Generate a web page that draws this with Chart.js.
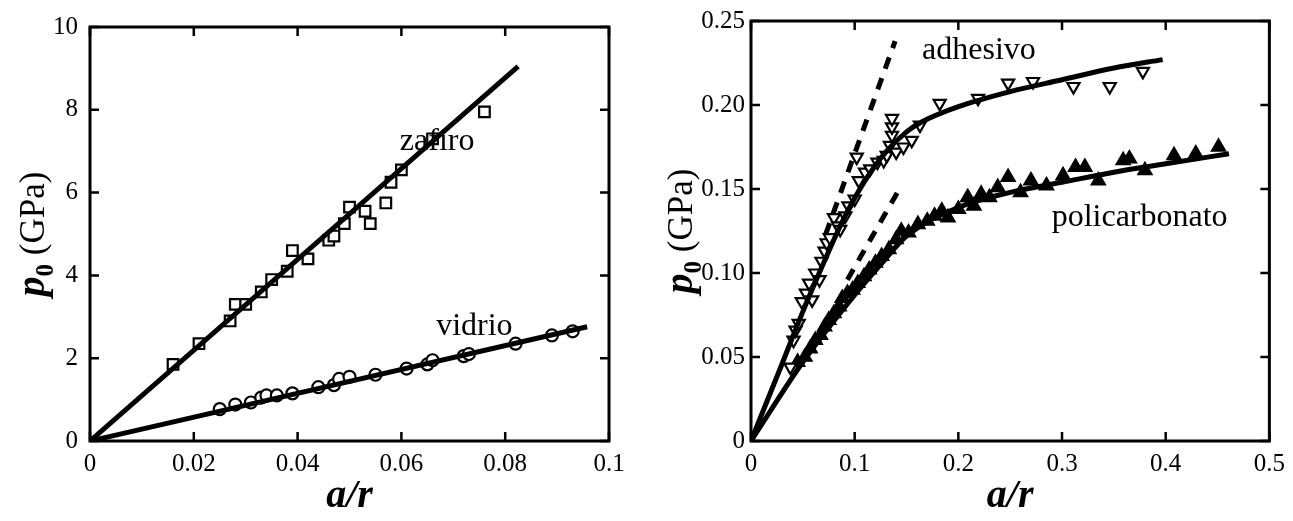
<!DOCTYPE html>
<html>
<head>
<meta charset="utf-8">
<script src="https://cdn.jsdelivr.net/npm/chart.js@4.4.1/dist/chart.umd.min.js"></script>
<style>
  html, body { margin: 0; padding: 0; background: #fff; }
  #wrap { position: relative; width: 1293px; height: 521px; }
  .panel { position: absolute; top: 0; height: 521px; }
</style>
</head>
<body>
<div id="wrap">
  <div class="panel" style="left:0;width:640px"><canvas id="left"></canvas></div>
  <div class="panel" style="left:640px;width:653px"><canvas id="right"></canvas></div>
</div>
<script>
// left panel: zafiro (squares) and vidrio (circles)
const zafiroX = [0.016, 0.021, 0.027, 0.028, 0.030, 0.033, 0.035, 0.038, 0.039, 0.042, 0.046, 0.047, 0.049, 0.050, 0.053, 0.054, 0.057, 0.058, 0.060, 0.066, 0.076];
const zafiroY = [1.85, 2.35, 2.9, 3.3, 3.3, 3.6, 3.9, 4.1, 4.6, 4.4, 4.85, 4.95, 5.25, 5.65, 5.55, 5.25, 5.75, 6.25, 6.55, 7.3, 7.95];
const zafiroFitX = [0, 0.0825];
const zafiroFitY = [0, 9.05];

const vidrioX = [0.025, 0.028, 0.031, 0.033, 0.034, 0.036, 0.039, 0.044, 0.047, 0.048, 0.050, 0.055, 0.061, 0.065, 0.066, 0.072, 0.073, 0.082, 0.089, 0.093];
const vidrioY = [0.77, 0.88, 0.93, 1.05, 1.1, 1.1, 1.15, 1.3, 1.35, 1.5, 1.55, 1.6, 1.75, 1.85, 1.95, 2.05, 2.1, 2.35, 2.55, 2.65];
const vidrioFitX = [0, 0.0958];
const vidrioFitY = [0, 2.76];

// right panel: adhesivo (open down triangles) and policarbonato (filled triangles)
const adhesivoX = [0.038, 0.041, 0.043, 0.046, 0.049, 0.053, 0.056, 0.059, 0.062, 0.066, 0.068, 0.071, 0.073, 0.076, 0.080, 0.084, 0.086, 0.091, 0.094, 0.100, 0.102, 0.104, 0.110, 0.115, 0.122, 0.128, 0.131, 0.134, 0.136, 0.136, 0.136, 0.140, 0.147, 0.155, 0.163, 0.182, 0.219, 0.248, 0.272, 0.311, 0.346, 0.378];
const adhesivoY = [0.044, 0.060, 0.066, 0.070, 0.083, 0.088, 0.094, 0.084, 0.100, 0.096, 0.107, 0.113, 0.118, 0.121, 0.133, 0.128, 0.126, 0.134, 0.140, 0.144, 0.169, 0.155, 0.160, 0.162, 0.166, 0.167, 0.170, 0.176, 0.182, 0.187, 0.192, 0.172, 0.175, 0.179, 0.188, 0.201, 0.204, 0.213, 0.214, 0.211, 0.211, 0.220];
const adhesivoFitX = [0, 0.03, 0.05, 0.07, 0.09, 0.11, 0.13, 0.15, 0.165, 0.2, 0.25, 0.3, 0.35, 0.397];
const adhesivoFitY = [0, 0.046, 0.077, 0.106, 0.133, 0.155, 0.172, 0.184, 0.190, 0.199, 0.208, 0.215, 0.222, 0.227];
const adhesivoDashX = [0.072, 0.139];
const adhesivoDashY = [0.123, 0.238];

const policarbX = [0.045, 0.052, 0.057, 0.062, 0.067, 0.071, 0.075, 0.080, 0.085, 0.088, 0.093, 0.098, 0.103, 0.109, 0.114, 0.120, 0.126, 0.133, 0.140, 0.145, 0.152, 0.161, 0.170, 0.177, 0.184, 0.190, 0.200, 0.209, 0.215, 0.222, 0.230, 0.238, 0.248, 0.260, 0.270, 0.285, 0.301, 0.313, 0.322, 0.335, 0.359, 0.365, 0.380, 0.408, 0.429, 0.451];
const policarbY = [0.047, 0.050, 0.055, 0.060, 0.063, 0.068, 0.072, 0.076, 0.080, 0.085, 0.088, 0.090, 0.094, 0.098, 0.102, 0.106, 0.110, 0.114, 0.120, 0.125, 0.124, 0.129, 0.131, 0.134, 0.137, 0.133, 0.138, 0.145, 0.140, 0.147, 0.145, 0.151, 0.157, 0.148, 0.155, 0.152, 0.158, 0.163, 0.163, 0.155, 0.167, 0.168, 0.161, 0.170, 0.171, 0.175];
const policarbFitX = [0, 0.05, 0.1, 0.125, 0.15, 0.2, 0.25, 0.3, 0.35, 0.4, 0.461];
const policarbFitY = [0, 0.047, 0.087, 0.105, 0.122, 0.139, 0.148, 0.154, 0.160, 0.165, 0.171];
const policarbDashX = [0.093, 0.145];
const policarbDashY = [0.096, 0.152];

const pts = (xs, ys) => xs.map((x, i) => ({ x, y: ys[i] }));
const SERIF = '"Liberation Serif", "Times New Roman", serif';

const fitLine = (data, dash) => ({
  data, showLine: true, pointRadius: 0, borderColor: '#000', borderWidth: 5,
  borderDash: dash || [], cubicInterpolationMode: 'monotone', order: 0
});
const markers = (data, style, fill, r, rot) => ({
  data, showLine: false, pointStyle: style, pointRadius: r, pointRotation: rot || 0,
  pointBackgroundColor: fill, pointBorderColor: '#000', pointBorderWidth: 2.2, order: 1
});

// frame, inward ticks, rotated y title with subscript and in-plot labels
const decor = {
  id: 'decor',
  afterDraw(chart, args, o) {
    const { ctx, chartArea: a, scales: { x, y } } = chart;
    ctx.save();
    ctx.strokeStyle = '#000';
    ctx.lineWidth = 3;
    ctx.strokeRect(a.left, a.top, a.right - a.left, a.bottom - a.top);
    ctx.lineWidth = 2.5;
    ctx.beginPath();
    x.ticks.forEach(t => {
      const px = x.getPixelForValue(t.value);
      ctx.moveTo(px, a.bottom); ctx.lineTo(px, a.bottom - 9);
      ctx.moveTo(px, a.top); ctx.lineTo(px, a.top + 9);
    });
    y.ticks.forEach(t => {
      const py = y.getPixelForValue(t.value);
      ctx.moveTo(a.left, py); ctx.lineTo(a.left + 9, py);
      ctx.moveTo(a.right, py); ctx.lineTo(a.right - 9, py);
    });
    ctx.stroke();

    // y title: p0 (GPa)
    ctx.fillStyle = '#000';
    ctx.textBaseline = 'alphabetic';
    const fP = 'italic bold 40px ' + SERIF, fS = 'bold 25px ' + SERIF, fG = '35px ' + SERIF;
    ctx.font = fP; const wP = ctx.measureText('p').width;
    ctx.font = fS; const wS = ctx.measureText('0').width;
    ctx.font = fG; const wG = ctx.measureText(' (GPa)').width;
    const total = wP + wS + wG;
    ctx.translate(o.titleX, (a.top + a.bottom) / 2);
    ctx.rotate(-Math.PI / 2);
    let cx = -total / 2;
    ctx.font = fP; ctx.fillText('p', cx, 0); cx += wP;
    ctx.font = fS; ctx.fillText('0', cx, 9); cx += wS;
    ctx.font = fG; ctx.fillText(' (GPa)', cx, 0);
    ctx.setTransform(1, 0, 0, 1, 0, 0);

    ctx.font = '32px ' + SERIF;
    o.labels.forEach(l => ctx.fillText(l.text, x.getPixelForValue(l.x), y.getPixelForValue(l.y)));
    ctx.restore();
  }
};

const fmt = v => v === 0 ? '0' : String(Number(v.toFixed(2)));

function axes(xmax, xstep, ymax, ystep, yw, ypad, yfmt) {
  const tickFont = { family: SERIF, size: 25 };
  return {
    x: {
      type: 'linear', min: 0, max: xmax,
      ticks: { stepSize: xstep, color: '#000', font: tickFont, padding: 8, callback: fmt, maxRotation: 0 },
      grid: { display: false, drawTicks: false }, border: { display: false },
      title: { display: true, text: 'a/r', color: '#000', font: { family: SERIF, size: 40, style: 'italic', weight: 'bold' }, padding: { top: 0, bottom: 0 } },
      afterFit: s => { s.height = 80; }
    },
    y: {
      type: 'linear', min: 0, max: ymax,
      ticks: { stepSize: ystep, color: '#000', font: tickFont, padding: ypad, callback: yfmt },
      grid: { display: false, drawTicks: false }, border: { display: false },
      afterFit: s => { s.width = yw; }
    }
  };
}

new Chart(document.getElementById('left'), {
  type: 'scatter',
  data: {
    datasets: [
      fitLine(pts(zafiroFitX, zafiroFitY)),
      fitLine(pts(vidrioFitX, vidrioFitY)),
      markers(pts(zafiroX, zafiroY), 'rect', '#fff', 7.5),
      markers(pts(vidrioX, vidrioY), 'circle', '#fff', 6)
    ]
  },
  options: {
    responsive: true, maintainAspectRatio: false, animation: false,
    layout: { padding: { top: 20, right: 31, left: 0, bottom: 0 } },
    plugins: {
      legend: { display: false }, tooltip: { enabled: false },
      decor: { titleX: 44, labels: [ { text: 'zafiro', x: 0.0597, y: 7.03 }, { text: 'vidrio', x: 0.0667, y: 2.57 } ] }
    },
    scales: axes(0.1, 0.02, 10, 2, 90, 12, fmt)
  },
  plugins: [decor]
});

new Chart(document.getElementById('right'), {
  type: 'scatter',
  data: {
    datasets: [
      fitLine(pts(adhesivoFitX, adhesivoFitY)),
      fitLine(pts(policarbFitX, policarbFitY)),
      fitLine(pts(adhesivoDashX, adhesivoDashY), [12, 10]),
      fitLine(pts(policarbDashX, policarbDashY), [12, 10]),
      markers(pts(adhesivoX, adhesivoY), 'triangle', '#fff', 7, 180),
      markers(pts(policarbX, policarbY), 'triangle', '#000', 7.5)
    ]
  },
  options: {
    responsive: true, maintainAspectRatio: false, animation: false,
    layout: { padding: { top: 20, right: 23, left: 0, bottom: 0 } },
    plugins: {
      legend: { display: false }, tooltip: { enabled: false },
      decor: { titleX: 52, labels: [ { text: 'adhesivo', x: 0.165, y: 0.2274 }, { text: 'policarbonato', x: 0.29, y: 0.128 } ] }
    },
    scales: axes(0.5, 0.1, 0.25, 0.05, 111, 6, v => v === 0 ? '0' : v.toFixed(2))
  },
  plugins: [decor]
});
</script>
</body>
</html>
